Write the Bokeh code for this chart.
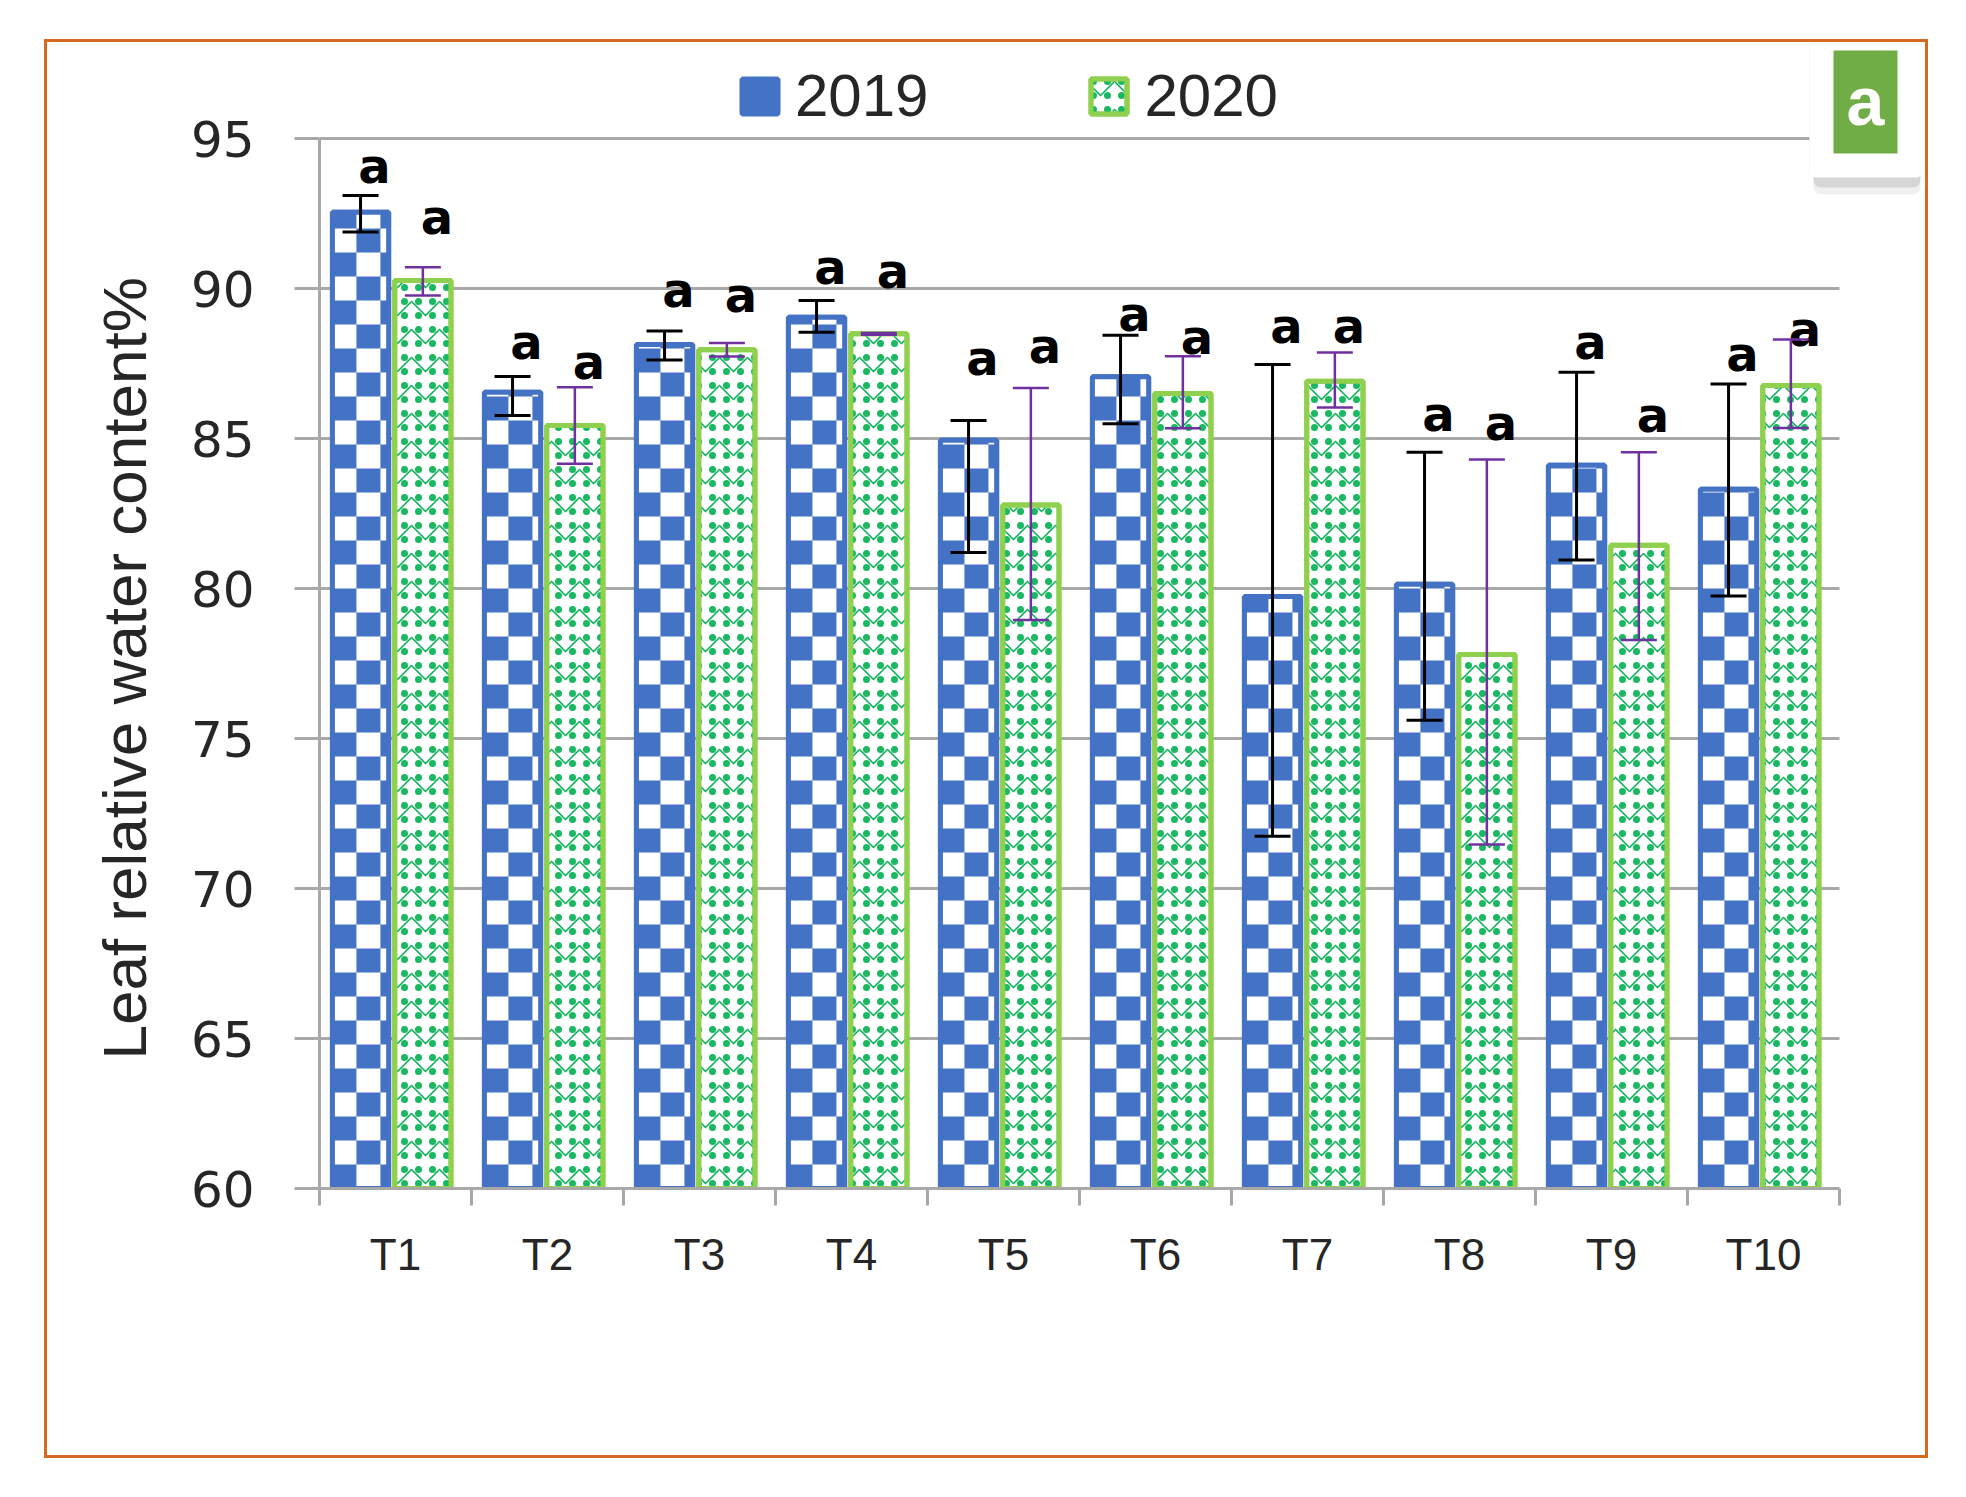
import math
from bokeh.plotting import figure
from bokeh.models import (ColumnDataSource, Whisker, TeeHead, FixedTicker, Legend, LegendItem,
                          Label, BoxAnnotation, Grid, Title)
from bokeh.transform import dodge
from bokeh.core.properties import value
from bokeh.embed import file_html
from bokeh.resources import INLINE

# ---------------- data ----------------
treatments = ["T1", "T2", "T3", "T4", "T5", "T6", "T7", "T8", "T9", "T10"]
years = ["2019", "2020"]
rwc_2019 = [92.54, 86.54, 88.13, 89.04, 84.94, 87.06, 79.73, 80.14, 84.11, 83.31]
rwc_2020 = [90.27, 85.43, 87.96, 88.49, 82.78, 86.50, 86.91, 77.80, 81.44, 86.77]
err_hi_2019 = [93.10, 87.07, 88.58, 89.60, 85.60, 88.44, 87.47, 84.54, 87.21, 86.82]
err_lo_2019 = [91.88, 85.77, 87.62, 88.54, 81.20, 85.49, 71.74, 75.61, 80.95, 79.75]
err_hi_2020 = [90.71, 86.71, 88.18, 88.52, 86.68, 87.74, 87.87, 84.30, 84.54, 88.30]
err_lo_2020 = [89.77, 84.16, 87.73, 88.46, 78.95, 85.34, 86.03, 71.47, 78.28, 85.35]
letters_2019 = ["a", "a", "a", "a", "a", "a", "a", "a", "a", "a"]
letters_2020 = ["a", "a", "a", "a", "a", "a", "a", "a", "a", "a"]
letter_y_2019 = [94.10, 88.21, 89.96, 90.71, 87.70, 89.15, 88.74, 85.83, 88.22, 87.81]
letter_y_2020 = [92.38, 87.54, 89.80, 90.60, 88.07, 88.37, 88.74, 85.52, 85.80, 88.64]
y_ticks = [60, 65, 70, 75, 80, 85, 90, 95]
y_title = "Leaf relative water content%"
panel_tag = "a"

# ---------------- styles / layout ----------------
BLUE = "#4472C4"
GREEN_EDGE = "#8FD14F"
GREEN_DOT = "#00B050"
PURPLE = "#7030A0"
GRID = "#A8A8A8"
TXT = "#262626"
ORANGE = "#D4691F"

W, H = 1878, 1413              # the orange-framed card
CAT_PX, UNIT_PX = 152.0, 30.0  # px per category, px per y unit
CELL_PX = 24                   # checker cell size
FL, FB, FT, FR = 272, 1146, 0, 1875
n = len(treatments)
x_end = 0.5 + (FR - FL) / CAT_PX
y_end = y_ticks[0] + (FB - FT) / UNIT_PX

pos = list(range(1, n + 1))
src = ColumnDataSource(dict(
    x=pos, v19=rwc_2019, v20=rwc_2020,
    hi19=err_hi_2019, lo19=err_lo_2019, hi20=err_hi_2020, lo20=err_lo_2020,
    t19=letters_2019, t20=letters_2020, ly19=letter_y_2019, ly20=letter_y_2020,
))

p = figure(width=W, height=H, output_backend="svg", toolbar_location=None,
           x_range=(0.5, x_end), y_range=(y_ticks[0], y_end),
           min_border_left=FL, min_border_right=W - FR, min_border_top=FT,
           min_border_bottom=H - FB)
p.margin = (42, 0, 0, 47)
p.styles = {"outline": "3px solid " + ORANGE}
p.outline_line_color = None
p.background_fill_color = "white"
p.border_fill_color = "white"

d19, d20, bw = -0.23, 0.18, 0.37

# 2019: blue bars with white checker cells
r19 = p.vbar(x=dodge("x", d19, range=p.x_range), top="v19", bottom=y_ticks[0], width=bw, source=src,
             fill_color=BLUE, line_color=BLUE, line_width=5)


def checker_cells(centers, tops, base, width, cdx, cdy):
    L, R, B, T = [], [], [], []
    for xc, top in zip(centers, tops):
        x0 = xc - width / 2
        ncol = int(math.ceil(width / cdx))
        nrow = int(math.ceil((top - base) / cdy))
        for ri in range(nrow):
            y0 = base + ri * cdy
            y1 = min(y0 + cdy, top)
            for ci in range(ncol):
                if (ri + ci) % 2 == 1:
                    xa = x0 + ci * cdx
                    L.append(xa); R.append(min(xa + cdx, x0 + width)); B.append(y0); T.append(y1)
    return dict(left=L, right=R, bottom=B, top=T)


cells = ColumnDataSource(checker_cells([i + d19 for i in pos], rwc_2019, y_ticks[0], bw,
                                       CELL_PX / CAT_PX, CELL_PX / UNIT_PX))
p.quad(left="left", right="right", bottom="bottom", top="top", source=cells,
       fill_color="white", line_color=None)
p.vbar(x=dodge("x", d19, range=p.x_range), top="v19", bottom=y_ticks[0], width=bw, source=src,
       fill_alpha=0, line_color=BLUE, line_width=5)

# 2020: white bars with green zigzag + dots
r20 = p.vbar(x=dodge("x", d20, range=p.x_range), top="v20", bottom=y_ticks[0], width=bw, source=src,
             fill_color="white", line_color=GREEN_EDGE, line_width=5,
             hatch_pattern="v", hatch_color=GREEN_DOT, hatch_scale=28, hatch_weight=1.5)
r20d = p.vbar(x=dodge("x", d20, range=p.x_range), top="v20", bottom=y_ticks[0], width=bw, source=src,
              fill_alpha=0, line_color=GREEN_EDGE, line_width=5,
              hatch_pattern=".", hatch_color=GREEN_DOT, hatch_scale=14, hatch_alpha=0.9)

for base_d, hi, lo, col, lw in [(d19, "hi19", "lo19", "black", 3), (d20, "hi20", "lo20", PURPLE, 2.5)]:
    w = Whisker(base=dodge("x", base_d, range=p.x_range), upper=hi, lower=lo, source=src,
                line_color=col, line_width=lw, level="annotation",
                upper_head=TeeHead(size=36, line_color=col, line_width=lw),
                lower_head=TeeHead(size=36, line_color=col, line_width=lw))
    p.add_layout(w)

for col_x, col_y, col_t in [(d19, "ly19", "t19"), (d20, "ly20", "t20")]:
    p.text(x=dodge("x", col_x, range=p.x_range), y=col_y, text=col_t, source=src, x_offset=14,
           text_font=value("DejaVu Sans"), text_font_style="bold", text_font_size="48px",
           text_align="center", text_baseline="middle", text_color="black")

# axes
p.xaxis.bounds = (0.5, n + 0.5)
p.xaxis.ticker = FixedTicker(ticks=pos, minor_ticks=[i + 0.5 for i in range(0, n + 1)])
p.xaxis.major_label_overrides = {i: t for i, t in zip(pos, treatments)}
p.xaxis.major_tick_out = 0
p.xaxis.major_tick_in = 0
p.xaxis.minor_tick_out = 17
p.xaxis.minor_tick_in = 0
p.xaxis.minor_tick_line_color = GRID
p.xaxis.minor_tick_line_width = 3
p.xaxis.axis_line_color = GRID
p.xaxis.axis_line_width = 3
p.xaxis.major_label_text_font = "Liberation Sans"
p.xaxis.major_label_text_font_size = "44px"
p.xaxis.major_label_text_color = TXT
p.xaxis.major_label_standoff = 24

p.yaxis.bounds = (y_ticks[0], y_ticks[-1])
p.yaxis.ticker = FixedTicker(ticks=y_ticks, minor_ticks=[])
p.yaxis.major_tick_out = 25
p.yaxis.major_tick_in = 0
p.yaxis.major_tick_line_color = GRID
p.yaxis.major_tick_line_width = 3
p.yaxis.axis_line_color = GRID
p.yaxis.axis_line_width = 3
p.yaxis.major_label_text_font = "DejaVu Sans"
p.yaxis.major_label_text_font_size = "50px"
p.yaxis.major_label_text_color = TXT
p.yaxis.major_label_standoff = 40

# y-axis title, starting near the bottom of the 60..95 axis (frame extends above it)
ytitle = Title(text=y_title, align="left", offset=129,
               text_font="Liberation Sans", text_font_size="62px", text_font_style="normal",
               text_color=TXT)
if "standoff" in Title.properties():
    ytitle.standoff = 58
p.add_layout(ytitle, "left")

p.xgrid.grid_line_color = None
p.ygrid.grid_line_color = GRID
p.ygrid.grid_line_width = 3
if "cross_bounds" in Grid.properties():
    p.ygrid.cross_bounds = (0.5, n + 0.5)

legend = Legend(items=[LegendItem(label=years[0], renderers=[r19]),
                       LegendItem(label=years[1], renderers=[r20, r20d])],
                orientation="horizontal", location=(418, 1058),
                glyph_width=45, glyph_height=44, label_height=44, label_standoff=13,
                spacing=158, padding=0, margin=0, border_line_color=None,
                background_fill_alpha=0, label_text_font="Liberation Sans",
                label_text_font_size="60px", label_text_color=TXT)
p.add_layout(legend)

# badge: shadow, card, green tag, letter (canvas px)
cu = dict(left_units="canvas", right_units="canvas", top_units="canvas", bottom_units="canvas")
p.add_layout(BoxAnnotation(left=1766, right=1873, top=126, bottom=152, fill_color="#808080",
                           fill_alpha=0.12, line_color=None, border_radius=8, **cu))
p.add_layout(BoxAnnotation(left=1766, right=1873, top=126, bottom=145, fill_color="#707070",
                           fill_alpha=0.2, line_color=None, border_radius=8, **cu))
p.add_layout(BoxAnnotation(left=1762, right=1875, top=0, bottom=135, fill_color="white",
                           fill_alpha=1, line_color="#E6E6E6", line_width=1, border_radius=6, **cu))
p.add_layout(BoxAnnotation(left=1786, right=1850, top=8, bottom=111, fill_color="#70AD47",
                           fill_alpha=1, line_color=None, **cu))
p.add_layout(Label(x=1818, y=58, x_units="canvas", y_units="canvas", text=panel_tag,
                   text_align="center", text_baseline="middle", text_color="white",
                   text_font="Liberation Sans", text_font_style="bold", text_font_size="68px"))

open("out.html", "w").write(file_html(p, INLINE))
